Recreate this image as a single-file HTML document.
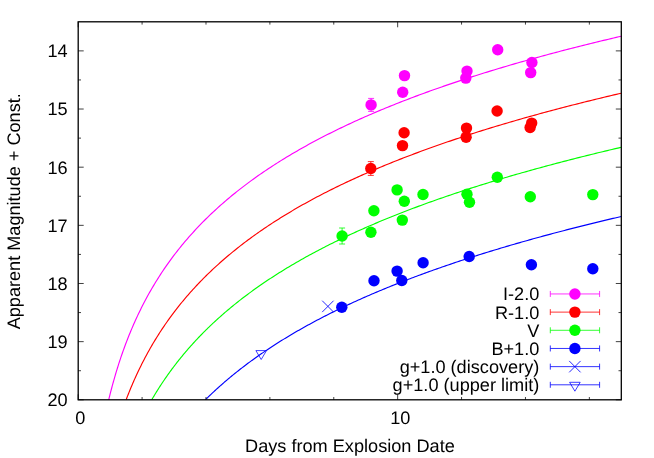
<!DOCTYPE html>
<html><head><meta charset="utf-8"><title>Light curve</title>
<style>html,body{margin:0;padding:0;background:#fff}body{width:654px;height:458px;overflow:hidden;font-family:"Liberation Sans",sans-serif}svg{will-change:transform}</style></head>
<body>
<svg width="654" height="458" viewBox="0 0 654 458" style="display:block;text-rendering:geometricPrecision">
<rect width="654" height="458" fill="#fff"/>
<defs><clipPath id="c"><rect x="78.2" y="21.8" width="543.0999999999999" height="378.0"/></clipPath></defs>
<polyline points="108.71,399.80 108.81,399.39 108.99,398.65 109.22,397.70 109.50,396.58 109.81,395.32 110.16,393.94 110.54,392.46 110.94,390.88 111.37,389.23 111.83,387.51 112.31,385.72 112.81,383.87 113.33,381.98 113.88,380.04 114.44,378.06 115.02,376.05 115.62,374.00 116.24,371.93 116.88,369.84 117.53,367.72 118.20,365.59 118.89,363.44 119.59,361.28 120.31,359.11 121.04,356.93 121.79,354.75 122.55,352.56 123.33,350.37 124.12,348.18 124.92,345.99 125.74,343.80 126.57,341.61 127.41,339.43 128.27,337.25 129.14,335.08 130.02,332.91 130.91,330.75 131.82,328.60 132.74,326.45 133.67,324.32 134.61,322.19 135.56,320.08 136.53,317.97 137.50,315.88 138.49,313.79 139.49,311.72 140.50,309.65 141.52,307.60 142.55,305.57 143.59,303.54 144.64,301.52 145.70,299.52 146.77,297.53 147.85,295.55 148.95,293.59 150.05,291.64 151.16,289.70 152.28,287.77 153.42,285.85 154.56,283.95 155.71,282.06 156.87,280.19 158.04,278.32 159.22,276.47 160.41,274.63 161.60,272.81 162.81,270.99 164.03,269.19 165.25,267.40 166.48,265.62 167.73,263.86 168.98,262.11 170.24,260.37 171.51,258.64 172.78,256.92 174.07,255.22 175.36,253.52 176.67,251.84 177.98,250.17 179.30,248.51 180.62,246.86 181.96,245.23 183.30,243.60 184.66,241.99 186.02,240.39 187.38,238.79 188.76,237.21 190.14,235.64 191.54,234.08 192.94,232.53 194.34,230.99 195.76,229.46 197.18,227.94 198.61,226.43 200.05,224.93 201.50,223.44 202.95,221.96 204.41,220.49 205.88,219.03 207.36,217.58 208.84,216.14 210.33,214.70 211.83,213.28 213.34,211.87 214.85,210.46 216.37,209.06 217.89,207.67 219.43,206.30 220.97,204.92 222.52,203.56 224.07,202.21 225.64,200.86 227.21,199.53 228.78,198.20 230.37,196.88 231.96,195.56 233.55,194.26 235.16,192.96 236.77,191.67 238.39,190.39 240.01,189.12 241.64,187.85 243.28,186.59 244.92,185.34 246.57,184.09 248.23,182.86 249.90,181.63 251.57,180.40 253.24,179.19 254.93,177.98 256.62,176.78 258.32,175.58 260.02,174.39 261.73,173.21 263.44,172.04 265.17,170.87 266.90,169.71 268.63,168.55 270.37,167.40 272.12,166.26 273.87,165.12 275.63,163.99 277.40,162.86 279.17,161.75 280.95,160.63 282.74,159.53 284.53,158.42 286.32,157.33 288.13,156.24 289.94,155.16 291.75,154.08 293.57,153.01 295.40,151.94 297.23,150.88 299.07,149.82 300.92,148.77 302.77,147.73 304.63,146.69 306.49,145.65 308.36,144.62 310.23,143.60 312.11,142.58 314.00,141.56 315.89,140.55 317.79,139.55 319.69,138.55 321.60,137.56 323.52,136.57 325.44,135.58 327.37,134.60 329.30,133.63 331.24,132.66 333.18,131.69 335.13,130.73 337.08,129.77 339.04,128.82 341.01,127.87 342.98,126.93 344.96,125.99 346.94,125.05 348.93,124.12 350.92,123.19 352.92,122.27 354.92,121.35 356.93,120.44 358.95,119.53 360.97,118.63 363.00,117.72 365.03,116.83 367.07,115.93 369.11,115.04 371.16,114.16 373.21,113.27 375.27,112.40 377.33,111.52 379.40,110.65 381.47,109.79 383.55,108.92 385.64,108.06 387.73,107.21 389.82,106.36 391.92,105.51 394.03,104.66 396.14,103.82 398.26,102.98 400.38,102.15 402.50,101.32 404.64,100.49 406.77,99.67 408.91,98.85 411.06,98.03 413.21,97.22 415.37,96.41 417.53,95.60 419.70,94.80 421.87,93.99 424.05,93.20 426.23,92.40 428.42,91.61 430.61,90.82 432.81,90.04 435.01,89.26 437.22,88.48 439.43,87.70 441.65,86.93 443.87,86.16 446.10,85.39 448.33,84.63 450.56,83.87 452.81,83.11 455.05,82.36 457.30,81.60 459.56,80.85 461.82,80.11 464.09,79.36 466.36,78.62 468.63,77.88 470.91,77.15 473.20,76.42 475.49,75.69 477.78,74.96 480.08,74.23 482.39,73.51 484.70,72.79 487.01,72.08 489.33,71.36 491.65,70.65 493.98,69.94 496.31,69.24 498.65,68.53 500.99,67.83 503.34,67.13 505.69,66.43 508.05,65.74 510.41,65.05 512.77,64.36 515.14,63.67 517.52,62.99 519.90,62.31 522.28,61.63 524.67,60.95 527.06,60.27 529.46,59.60 531.86,58.93 534.27,58.26 536.68,57.60 539.09,56.93 541.51,56.27 543.94,55.61 546.37,54.96 548.80,54.30 551.24,53.65 553.68,53.00 556.13,52.35 558.58,51.70 561.04,51.06 563.50,50.42 565.96,49.78 568.43,49.14 570.90,48.51 573.38,47.87 575.87,47.24 578.35,46.61 580.84,45.98 583.34,45.36 585.84,44.73 588.35,44.11 590.85,43.49 593.37,42.88 595.89,42.26 598.41,41.65 600.93,41.03 603.46,40.42 606.00,39.82 608.54,39.21 611.08,38.61 613.63,38.00 616.18,37.40 618.74,36.80 621.30,36.21" fill="none" stroke="#ff00ff" stroke-width="1.15" clip-path="url(#c)"/>
<polyline points="126.11,399.80 126.21,399.55 126.38,399.09 126.61,398.50 126.87,397.81 127.18,397.02 127.51,396.16 127.88,395.23 128.27,394.24 128.68,393.19 129.12,392.10 129.59,390.95 130.07,389.77 130.58,388.54 131.10,387.28 131.65,385.99 132.21,384.67 132.79,383.32 133.39,381.94 134.00,380.54 134.63,379.12 135.28,377.68 135.94,376.22 136.62,374.75 137.32,373.26 138.02,371.76 138.74,370.24 139.48,368.72 140.23,367.18 140.99,365.64 141.77,364.09 142.56,362.53 143.36,360.96 144.18,359.40 145.00,357.82 145.84,356.24 146.70,354.66 147.56,353.08 148.43,351.50 149.32,349.91 150.22,348.33 151.13,346.74 152.05,345.16 152.98,343.57 153.92,341.99 154.88,340.41 155.84,338.83 156.82,337.26 157.80,335.69 158.80,334.12 159.80,332.55 160.82,330.99 161.85,329.43 162.88,327.88 163.93,326.33 164.98,324.78 166.05,323.24 167.12,321.71 168.21,320.18 169.30,318.65 170.40,317.13 171.51,315.62 172.63,314.11 173.76,312.61 174.90,311.11 176.05,309.62 177.21,308.14 178.37,306.66 179.55,305.19 180.73,303.72 181.92,302.26 183.12,300.81 184.33,299.36 185.55,297.92 186.78,296.49 188.01,295.06 189.25,293.64 190.50,292.23 191.76,290.82 193.03,289.42 194.30,288.03 195.58,286.64 196.87,285.26 198.17,283.88 199.48,282.52 200.79,281.16 202.11,279.80 203.44,278.45 204.78,277.11 206.13,275.78 207.48,274.45 208.84,273.13 210.21,271.81 211.58,270.51 212.96,269.20 214.35,267.91 215.75,266.62 217.15,265.34 218.57,264.06 219.98,262.79 221.41,261.53 222.84,260.27 224.28,259.02 225.73,257.77 227.18,256.53 228.65,255.30 230.11,254.08 231.59,252.86 233.07,251.64 234.56,250.43 236.06,249.23 237.56,248.03 239.07,246.84 240.58,245.66 242.11,244.48 243.64,243.31 245.17,242.14 246.72,240.98 248.27,239.82 249.82,238.67 251.38,237.53 252.95,236.39 254.53,235.26 256.11,234.13 257.70,233.00 259.30,231.89 260.90,230.78 262.50,229.67 264.12,228.57 265.74,227.47 267.37,226.38 269.00,225.30 270.64,224.22 272.28,223.14 273.94,222.07 275.59,221.01 277.26,219.95 278.93,218.89 280.60,217.84 282.29,216.80 283.97,215.75 285.67,214.72 287.37,213.69 289.08,212.66 290.79,211.64 292.51,210.62 294.23,209.61 295.96,208.61 297.70,207.60 299.44,206.60 301.19,205.61 302.94,204.62 304.70,203.64 306.46,202.66 308.24,201.68 310.01,200.71 311.80,199.74 313.58,198.78 315.38,197.82 317.18,196.86 318.98,195.91 320.79,194.97 322.61,194.03 324.43,193.09 326.26,192.15 328.09,191.22 329.93,190.30 331.78,189.38 333.63,188.46 335.48,187.54 337.34,186.63 339.21,185.73 341.08,184.83 342.96,183.93 344.84,183.03 346.73,182.14 348.63,181.25 350.52,180.37 352.43,179.49 354.34,178.61 356.25,177.74 358.17,176.87 360.10,176.01 362.03,175.14 363.97,174.28 365.91,173.43 367.86,172.58 369.81,171.73 371.77,170.88 373.73,170.04 375.70,169.21 377.67,168.37 379.65,167.54 381.63,166.71 383.62,165.89 385.61,165.06 387.61,164.25 389.62,163.43 391.62,162.62 393.64,161.81 395.66,161.00 397.68,160.20 399.71,159.40 401.75,158.61 403.78,157.81 405.83,157.02 407.88,156.23 409.93,155.45 411.99,154.67 414.06,153.89 416.12,153.11 418.20,152.34 420.28,151.57 422.36,150.81 424.45,150.04 426.54,149.28 428.64,148.52 430.75,147.77 432.85,147.01 434.97,146.26 437.08,145.52 439.21,144.77 441.33,144.03 443.47,143.29 445.60,142.55 447.75,141.82 449.89,141.09 452.04,140.36 454.20,139.63 456.36,138.91 458.53,138.19 460.70,137.47 462.87,136.75 465.05,136.04 467.24,135.33 469.42,134.62 471.62,133.91 473.82,133.21 476.02,132.51 478.23,131.81 480.44,131.11 482.66,130.42 484.88,129.73 487.10,129.04 489.33,128.35 491.57,127.67 493.81,126.98 496.05,126.30 498.30,125.63 500.56,124.95 502.81,124.28 505.08,123.61 507.34,122.94 509.61,122.27 511.89,121.61 514.17,120.94 516.46,120.28 518.75,119.63 521.04,118.97 523.34,118.32 525.64,117.67 527.95,117.02 530.26,116.37 532.58,115.72 534.90,115.08 537.22,114.44 539.55,113.80 541.88,113.16 544.22,112.53 546.56,111.89 548.91,111.26 551.26,110.63 553.62,110.01 555.98,109.38 558.34,108.76 560.71,108.14 563.08,107.52 565.46,106.90 567.84,106.28 570.23,105.67 572.62,105.06 575.01,104.45 577.41,103.84 579.81,103.23 582.22,102.63 584.63,102.03 587.04,101.43 589.46,100.83 591.89,100.23 594.32,99.63 596.75,99.04 599.18,98.45 601.63,97.86 604.07,97.27 606.52,96.68 608.97,96.10 611.43,95.51 613.89,94.93 616.36,94.35 618.83,93.78 621.30,93.20" fill="none" stroke="#ff0000" stroke-width="1.15" clip-path="url(#c)"/>
<polyline points="151.72,399.80 151.81,399.64 151.98,399.36 152.19,399.00 152.45,398.56 152.73,398.08 153.05,397.54 153.40,396.96 153.77,396.34 154.16,395.68 154.58,394.98 155.02,394.26 155.48,393.51 155.96,392.73 156.46,391.92 156.97,391.09 157.51,390.24 158.06,389.36 158.63,388.47 159.21,387.56 159.81,386.63 160.42,385.68 161.05,384.72 161.69,383.74 162.35,382.75 163.02,381.75 163.71,380.74 164.40,379.71 165.11,378.67 165.84,377.63 166.57,376.57 167.32,375.50 168.08,374.43 168.86,373.35 169.64,372.26 170.44,371.17 171.24,370.07 172.06,368.96 172.89,367.85 173.73,366.73 174.59,365.61 175.45,364.48 176.32,363.36 177.21,362.22 178.10,361.09 179.00,359.95 179.92,358.81 180.84,357.67 181.78,356.52 182.72,355.38 183.67,354.23 184.64,353.08 185.61,351.93 186.59,350.78 187.58,349.63 188.59,348.48 189.60,347.33 190.61,346.19 191.64,345.04 192.68,343.89 193.72,342.74 194.78,341.59 195.84,340.45 196.91,339.30 197.99,338.16 199.08,337.01 200.18,335.87 201.28,334.73 202.40,333.60 203.52,332.46 204.65,331.33 205.79,330.20 206.93,329.07 208.09,327.94 209.25,326.81 210.42,325.69 211.60,324.57 212.78,323.45 213.98,322.34 215.18,321.23 216.39,320.12 217.60,319.01 218.83,317.91 220.06,316.81 221.30,315.71 222.54,314.61 223.80,313.52 225.06,312.43 226.33,311.35 227.60,310.27 228.88,309.19 230.17,308.11 231.47,307.04 232.77,305.97 234.08,304.90 235.40,303.84 236.73,302.78 238.06,301.72 239.40,300.67 240.74,299.62 242.09,298.57 243.45,297.53 244.82,296.49 246.19,295.46 247.57,294.42 248.96,293.39 250.35,292.37 251.75,291.35 253.15,290.33 254.56,289.31 255.98,288.30 257.41,287.29 258.84,286.29 260.28,285.29 261.72,284.29 263.17,283.30 264.63,282.31 266.09,281.32 267.56,280.33 269.04,279.35 270.52,278.38 272.01,277.40 273.50,276.43 275.00,275.47 276.51,274.51 278.02,273.55 279.54,272.59 281.06,271.64 282.59,270.69 284.13,269.74 285.67,268.80 287.22,267.86 288.78,266.92 290.34,265.99 291.90,265.06 293.47,264.14 295.05,263.22 296.64,262.30 298.23,261.38 299.82,260.47 301.42,259.56 303.03,258.65 304.64,257.75 306.26,256.85 307.88,255.96 309.51,255.06 311.15,254.17 312.79,253.29 314.44,252.41 316.09,251.53 317.74,250.65 319.41,249.77 321.08,248.90 322.75,248.04 324.43,247.17 326.11,246.31 327.80,245.45 329.50,244.60 331.20,243.75 332.91,242.90 334.62,242.05 336.34,241.21 338.06,240.37 339.79,239.53 341.52,238.70 343.26,237.87 345.00,237.04 346.75,236.21 348.51,235.39 350.27,234.57 352.03,233.76 353.80,232.94 355.58,232.13 357.36,231.32 359.14,230.52 360.93,229.72 362.73,228.92 364.53,228.12 366.34,227.33 368.15,226.53 369.96,225.75 371.78,224.96 373.61,224.18 375.44,223.40 377.28,222.62 379.12,221.84 380.97,221.07 382.82,220.30 384.67,219.53 386.53,218.77 388.40,218.01 390.27,217.25 392.15,216.49 394.03,215.74 395.91,214.99 397.80,214.24 399.70,213.49 401.60,212.75 403.50,212.00 405.41,211.26 407.33,210.53 409.25,209.79 411.17,209.06 413.10,208.33 415.04,207.61 416.97,206.88 418.92,206.16 420.86,205.44 422.82,204.72 424.77,204.01 426.74,203.29 428.70,202.58 430.68,201.87 432.65,201.17 434.63,200.46 436.62,199.76 438.61,199.06 440.60,198.37 442.60,197.67 444.60,196.98 446.61,196.29 448.63,195.60 450.64,194.92 452.67,194.23 454.69,193.55 456.72,192.87 458.76,192.19 460.80,191.52 462.84,190.85 464.89,190.17 466.95,189.51 469.00,188.84 471.07,188.17 473.13,187.51 475.20,186.85 477.28,186.19 479.36,185.54 481.45,184.88 483.53,184.23 485.63,183.58 487.73,182.93 489.83,182.28 491.93,181.64 494.04,181.00 496.16,180.36 498.28,179.72 500.40,179.08 502.53,178.44 504.66,177.81 506.80,177.18 508.94,176.55 511.09,175.92 513.24,175.30 515.39,174.67 517.55,174.05 519.71,173.43 521.88,172.81 524.05,172.20 526.23,171.58 528.41,170.97 530.59,170.36 532.78,169.75 534.97,169.14 537.16,168.54 539.37,167.93 541.57,167.33 543.78,166.73 545.99,166.13 548.21,165.53 550.43,164.94 552.66,164.35 554.88,163.75 557.12,163.16 559.36,162.57 561.60,161.99 563.84,161.40 566.09,160.82 568.35,160.24 570.61,159.66 572.87,159.08 575.13,158.50 577.40,157.92 579.68,157.35 581.96,156.78 584.24,156.21 586.53,155.64 588.82,155.07 591.11,154.50 593.41,153.94 595.71,153.38 598.02,152.81 600.33,152.25 602.64,151.70 604.96,151.14 607.28,150.58 609.61,150.03 611.94,149.48 614.27,148.93 616.61,148.38 618.95,147.83 621.30,147.28" fill="none" stroke="#00ff00" stroke-width="1.15" clip-path="url(#c)"/>
<polyline points="205.38,399.80 205.46,399.72 205.61,399.58 205.80,399.39 206.02,399.17 206.28,398.91 206.56,398.64 206.87,398.34 207.19,398.01 207.54,397.67 207.91,397.31 208.30,396.93 208.71,396.54 209.14,396.13 209.58,395.70 210.03,395.27 210.51,394.81 210.99,394.35 211.50,393.87 212.01,393.38 212.54,392.88 213.09,392.37 213.64,391.85 214.21,391.32 214.79,390.79 215.39,390.24 216.00,389.68 216.61,389.12 217.24,388.54 217.88,387.96 218.54,387.37 219.20,386.78 219.87,386.18 220.56,385.57 221.25,384.95 221.96,384.33 222.67,383.70 223.40,383.07 224.13,382.43 224.88,381.79 225.63,381.14 226.40,380.49 227.17,379.83 227.95,379.17 228.75,378.51 229.55,377.84 230.36,377.16 231.17,376.48 232.00,375.80 232.84,375.12 233.68,374.43 234.54,373.74 235.40,373.04 236.27,372.35 237.15,371.65 238.03,370.95 238.93,370.24 239.83,369.53 240.74,368.82 241.66,368.11 242.58,367.40 243.52,366.68 244.46,365.97 245.41,365.25 246.37,364.53 247.33,363.81 248.30,363.08 249.28,362.36 250.27,361.63 251.26,360.90 252.26,360.18 253.27,359.45 254.29,358.72 255.31,357.99 256.34,357.25 257.37,356.52 258.42,355.79 259.47,355.05 260.52,354.32 261.59,353.59 262.66,352.85 263.73,352.12 264.82,351.38 265.91,350.64 267.01,349.91 268.11,349.17 269.22,348.44 270.34,347.70 271.46,346.96 272.59,346.23 273.73,345.49 274.87,344.76 276.02,344.02 277.17,343.29 278.33,342.55 279.50,341.82 280.67,341.08 281.85,340.35 283.04,339.62 284.23,338.88 285.43,338.15 286.63,337.42 287.84,336.69 289.06,335.96 290.28,335.23 291.50,334.50 292.74,333.77 293.98,333.05 295.22,332.32 296.47,331.60 297.73,330.87 298.99,330.15 300.26,329.42 301.53,328.70 302.81,327.98 304.10,327.26 305.39,326.54 306.68,325.82 307.98,325.10 309.29,324.39 310.60,323.67 311.92,322.96 313.24,322.25 314.57,321.53 315.91,320.82 317.25,320.11 318.59,319.41 319.94,318.70 321.30,317.99 322.66,317.29 324.03,316.58 325.40,315.88 326.77,315.18 328.16,314.48 329.54,313.78 330.94,313.08 332.33,312.39 333.74,311.69 335.14,311.00 336.56,310.30 337.98,309.61 339.40,308.92 340.83,308.23 342.26,307.55 343.70,306.86 345.14,306.18 346.59,305.49 348.04,304.81 349.50,304.13 350.96,303.45 352.43,302.77 353.91,302.10 355.38,301.42 356.87,300.75 358.35,300.08 359.85,299.41 361.34,298.74 362.84,298.07 364.35,297.40 365.86,296.74 367.38,296.07 368.90,295.41 370.43,294.75 371.96,294.09 373.49,293.43 375.03,292.77 376.58,292.12 378.13,291.46 379.68,290.81 381.24,290.16 382.80,289.51 384.37,288.86 385.94,288.22 387.52,287.57 389.10,286.93 390.69,286.28 392.28,285.64 393.87,285.00 395.47,284.36 397.08,283.73 398.68,283.09 400.30,282.46 401.91,281.83 403.54,281.19 405.16,280.56 406.79,279.94 408.43,279.31 410.07,278.68 411.71,278.06 413.36,277.44 415.01,276.82 416.67,276.20 418.33,275.58 420.00,274.96 421.67,274.35 423.34,273.73 425.02,273.12 426.71,272.51 428.39,271.90 430.08,271.29 431.78,270.68 433.48,270.08 435.18,269.47 436.89,268.87 438.61,268.27 440.32,267.67 442.04,267.07 443.77,266.47 445.50,265.88 447.23,265.28 448.97,264.69 450.71,264.10 452.46,263.50 454.21,262.92 455.96,262.33 457.72,261.74 459.48,261.16 461.25,260.57 463.02,259.99 464.80,259.41 466.57,258.83 468.36,258.25 470.14,257.67 471.94,257.10 473.73,256.52 475.53,255.95 477.33,255.38 479.14,254.81 480.95,254.24 482.77,253.67 484.58,253.11 486.41,252.54 488.23,251.98 490.06,251.41 491.90,250.85 493.74,250.29 495.58,249.73 497.43,249.18 499.28,248.62 501.13,248.07 502.99,247.51 504.85,246.96 506.72,246.41 508.59,245.86 510.46,245.31 512.34,244.76 514.22,244.22 516.10,243.67 517.99,243.13 519.89,242.59 521.78,242.05 523.68,241.51 525.59,240.97 527.49,240.43 529.41,239.89 531.32,239.36 533.24,238.82 535.16,238.29 537.09,237.76 539.02,237.23 540.95,236.70 542.89,236.17 544.83,235.65 546.78,235.12 548.73,234.60 550.68,234.08 552.64,233.55 554.60,233.03 556.56,232.51 558.53,231.99 560.50,231.48 562.47,230.96 564.45,230.45 566.43,229.93 568.42,229.42 570.41,228.91 572.40,228.40 574.40,227.89 576.40,227.38 578.40,226.88 580.41,226.37 582.42,225.86 584.43,225.36 586.45,224.86 588.47,224.36 590.50,223.86 592.53,223.36 594.56,222.86 596.60,222.36 598.64,221.87 600.68,221.37 602.72,220.88 604.77,220.39 606.83,219.90 608.89,219.41 610.95,218.92 613.01,218.43 615.08,217.94 617.15,217.45 619.22,216.97 621.30,216.48" fill="none" stroke="#0000ff" stroke-width="1.15" clip-path="url(#c)"/>
<path d="M371.1,98.4V111.4M368.1,98.4h6M368.1,111.4h6" stroke="#ff00ff" stroke-width="0.9" fill="none" opacity="0.9"/>
<circle cx="371.1" cy="104.9" r="5.7" fill="#ff00ff"/>
<circle cx="402.7" cy="92.3" r="5.7" fill="#ff00ff"/>
<circle cx="404.5" cy="75.6" r="5.7" fill="#ff00ff"/>
<circle cx="465.8" cy="78.1" r="5.7" fill="#ff00ff"/>
<circle cx="467.0" cy="71.1" r="5.7" fill="#ff00ff"/>
<circle cx="497.7" cy="49.8" r="5.7" fill="#ff00ff"/>
<circle cx="531.9" cy="62.5" r="5.7" fill="#ff00ff"/>
<circle cx="530.7" cy="72.6" r="5.7" fill="#ff00ff"/>
<path d="M370.8,161.6V175.4M367.8,161.6h6M367.8,175.4h6" stroke="#ff0000" stroke-width="0.9" fill="none" opacity="0.9"/>
<circle cx="370.8" cy="168.5" r="5.7" fill="#ff0000"/>
<circle cx="402.5" cy="145.6" r="5.7" fill="#ff0000"/>
<circle cx="404.1" cy="132.8" r="5.7" fill="#ff0000"/>
<circle cx="466.1" cy="137.2" r="5.7" fill="#ff0000"/>
<circle cx="466.5" cy="128.1" r="5.7" fill="#ff0000"/>
<circle cx="497.1" cy="111.0" r="5.7" fill="#ff0000"/>
<circle cx="531.7" cy="123.1" r="5.7" fill="#ff0000"/>
<circle cx="530.1" cy="127.5" r="5.7" fill="#ff0000"/>
<path d="M342.1,228.0V244.0M339.1,228.0h6M339.1,244.0h6" stroke="#00ff00" stroke-width="0.9" fill="none" opacity="0.9"/>
<circle cx="342.1" cy="236.0" r="5.7" fill="#00ff00"/>
<circle cx="370.9" cy="232.3" r="5.7" fill="#00ff00"/>
<circle cx="373.9" cy="210.8" r="5.7" fill="#00ff00"/>
<circle cx="397.1" cy="189.9" r="5.7" fill="#00ff00"/>
<circle cx="404.3" cy="201.3" r="5.7" fill="#00ff00"/>
<circle cx="402.3" cy="220.1" r="5.7" fill="#00ff00"/>
<circle cx="423.0" cy="194.5" r="5.7" fill="#00ff00"/>
<circle cx="467.0" cy="194.3" r="5.7" fill="#00ff00"/>
<circle cx="469.5" cy="202.3" r="5.7" fill="#00ff00"/>
<circle cx="497.3" cy="177.3" r="5.7" fill="#00ff00"/>
<circle cx="530.3" cy="196.8" r="5.7" fill="#00ff00"/>
<circle cx="592.8" cy="194.6" r="5.7" fill="#00ff00"/>
<circle cx="341.8" cy="307.3" r="5.7" fill="#0000ff"/>
<circle cx="374.0" cy="280.7" r="5.7" fill="#0000ff"/>
<circle cx="397.1" cy="271.1" r="5.7" fill="#0000ff"/>
<circle cx="401.8" cy="280.5" r="5.7" fill="#0000ff"/>
<circle cx="423.1" cy="262.8" r="5.7" fill="#0000ff"/>
<circle cx="469.2" cy="256.5" r="5.7" fill="#0000ff"/>
<circle cx="531.4" cy="264.8" r="5.7" fill="#0000ff"/>
<circle cx="592.8" cy="268.7" r="5.7" fill="#0000ff"/>
<path d="M322.2,300.7L333.59999999999997,312.09999999999997M322.2,312.09999999999997L333.59999999999997,300.7" stroke="#0000ff" stroke-width="1" fill="none" opacity="0.85"/>
<path d="M255.89999999999998,350.6h10.6L261.2,359.5Z" stroke="#0000ff" stroke-width="0.9" fill="none" opacity="0.85"/>
<path d="M78.2,50.88h5.5M621.3,50.88h-5.5M78.2,109.03h5.5M621.3,109.03h-5.5M78.2,167.18h5.5M621.3,167.18h-5.5M78.2,225.34h5.5M621.3,225.34h-5.5M78.2,283.49h5.5M621.3,283.49h-5.5M78.2,341.65h5.5M621.3,341.65h-5.5M78.2,399.80h5.5M621.3,399.80h-5.5M78.2,79.95h2.8M621.3,79.95h-2.8M78.2,138.11h2.8M621.3,138.11h-2.8M78.2,196.26h2.8M621.3,196.26h-2.8M78.2,254.42h2.8M621.3,254.42h-2.8M78.2,312.57h2.8M621.3,312.57h-2.8M78.2,370.72h2.8M621.3,370.72h-2.8M78.20,399.8v-5.5M78.20,21.8v5.5M397.67,399.8v-5.5M397.67,21.8v5.5M142.09,399.8v-2.8M142.09,21.8v2.8M205.99,399.8v-2.8M205.99,21.8v2.8M269.88,399.8v-2.8M269.88,21.8v2.8M333.78,399.8v-2.8M333.78,21.8v2.8M461.56,399.8v-2.8M461.56,21.8v2.8M525.46,399.8v-2.8M525.46,21.8v2.8M589.35,399.8v-2.8M589.35,21.8v2.8" stroke="#000" stroke-width="0.75" fill="none"/>
<rect x="78.2" y="21.8" width="543.0999999999999" height="378.0" fill="none" stroke="#000" stroke-width="1.3"/>
<text x="67.6" y="57.28" text-anchor="end" font-family="Liberation Sans, sans-serif" font-size="18.15" fill="#000">14</text>
<text x="67.6" y="115.43" text-anchor="end" font-family="Liberation Sans, sans-serif" font-size="18.15" fill="#000">15</text>
<text x="67.6" y="173.58" text-anchor="end" font-family="Liberation Sans, sans-serif" font-size="18.15" fill="#000">16</text>
<text x="67.6" y="231.74" text-anchor="end" font-family="Liberation Sans, sans-serif" font-size="18.15" fill="#000">17</text>
<text x="67.6" y="289.89" text-anchor="end" font-family="Liberation Sans, sans-serif" font-size="18.15" fill="#000">18</text>
<text x="67.6" y="348.05" text-anchor="end" font-family="Liberation Sans, sans-serif" font-size="18.15" fill="#000">19</text>
<text x="67.6" y="406.20" text-anchor="end" font-family="Liberation Sans, sans-serif" font-size="18.15" fill="#000">20</text>
<text x="80.4" y="424.3" text-anchor="middle" font-family="Liberation Sans, sans-serif" font-size="18.15" fill="#000">0</text>
<text x="400.3" y="424.3" text-anchor="middle" font-family="Liberation Sans, sans-serif" font-size="18.15" fill="#000">10</text>
<text x="349.95" y="451.5" text-anchor="middle" font-family="Liberation Sans, sans-serif" font-size="18.15" fill="#000">Days from Explosion Date</text>
<text transform="translate(20.2,211.25) rotate(-90)" text-anchor="middle" font-family="Liberation Sans, sans-serif" font-size="18.12" fill="#000">Apparent Magnitude + Const.</text>
<text x="539.3" y="300.35" text-anchor="end" font-family="Liberation Sans, sans-serif" font-size="18.15" fill="#000">I-2.0</text>
<path d="M550.3,293.95H599.6M550.3,290.95v6M599.6,290.95v6" stroke="#ff00ff" stroke-width="1" fill="none" opacity="0.8"/>
<circle cx="574.9" cy="293.95" r="5.7" fill="#ff00ff"/>
<text x="539.3" y="318.52" text-anchor="end" font-family="Liberation Sans, sans-serif" font-size="18.15" fill="#000">R-1.0</text>
<path d="M550.3,312.12H599.6M550.3,309.12v6M599.6,309.12v6" stroke="#ff0000" stroke-width="1" fill="none" opacity="0.8"/>
<circle cx="574.9" cy="312.12" r="5.7" fill="#ff0000"/>
<text x="539.3" y="336.69" text-anchor="end" font-family="Liberation Sans, sans-serif" font-size="18.15" fill="#000">V</text>
<path d="M550.3,330.29H599.6M550.3,327.29v6M599.6,327.29v6" stroke="#00ff00" stroke-width="1" fill="none" opacity="0.8"/>
<circle cx="574.9" cy="330.29" r="5.7" fill="#00ff00"/>
<text x="539.3" y="354.86" text-anchor="end" font-family="Liberation Sans, sans-serif" font-size="18.15" fill="#000">B+1.0</text>
<path d="M550.3,348.46H599.6M550.3,345.46v6M599.6,345.46v6" stroke="#0000ff" stroke-width="1" fill="none" opacity="0.8"/>
<circle cx="574.9" cy="348.46" r="5.7" fill="#0000ff"/>
<text x="539.3" y="373.03" text-anchor="end" font-family="Liberation Sans, sans-serif" font-size="18.15" fill="#000">g+1.0 (discovery)</text>
<path d="M550.3,366.63H599.6M550.3,363.63v6M599.6,363.63v6" stroke="#0000ff" stroke-width="1" fill="none" opacity="0.8"/>
<path d="M569.1999999999999,360.93L580.6,372.33M569.1999999999999,372.33L580.6,360.93" stroke="#0000ff" stroke-width="1" fill="none" opacity="0.85"/>
<text x="539.3" y="391.20" text-anchor="end" font-family="Liberation Sans, sans-serif" font-size="18.15" fill="#000">g+1.0 (upper limit)</text>
<path d="M550.3,384.80H599.6M550.3,381.80v6M599.6,381.80v6" stroke="#0000ff" stroke-width="1" fill="none" opacity="0.8"/>
<path d="M569.6,382.3h10.6L574.9,391.2Z" stroke="#0000ff" stroke-width="0.9" fill="none" opacity="0.85"/>
</svg>
</body></html>
